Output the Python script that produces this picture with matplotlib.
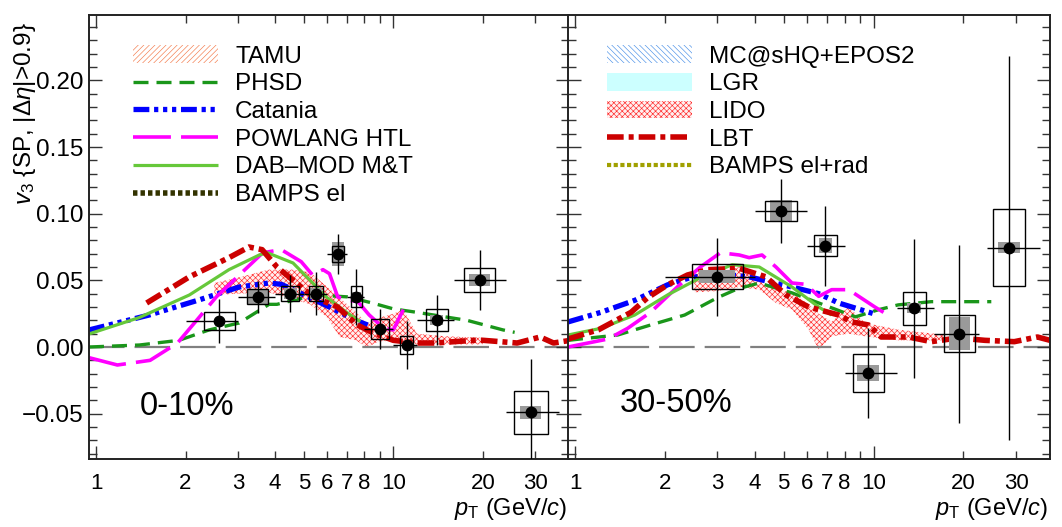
import numpy as np
import matplotlib
matplotlib.use("Agg")
import matplotlib.pyplot as plt
from matplotlib.patches import Rectangle, Patch
from matplotlib.lines import Line2D
from matplotlib.ticker import FixedLocator, NullFormatter, FixedFormatter

plt.rcParams['font.family'] = ['Liberation Sans', 'DejaVu Sans']
plt.rcParams['mathtext.fontset'] = 'custom'
plt.rcParams['mathtext.rm'] = 'Liberation Sans'
plt.rcParams['mathtext.it'] = 'Liberation Sans:italic'
plt.rcParams['mathtext.bf'] = 'Liberation Sans:bold'
plt.rcParams['hatch.linewidth'] = 0.45

# ---------------- measured D-meson v3, 0-10% ----------------
pt_c = [2.6, 3.5, 4.5, 5.5, 6.5, 7.5, 9.0, 11.1, 14.0, 19.5, 29.0]
v3_c = [0.0195, 0.0376, 0.040, 0.040, 0.070, 0.0376, 0.0135, 0.0015, 0.0203, 0.0504, -0.0489]
ptlo_c = [2, 3, 4, 5, 6, 7, 8, 10, 12, 16, 24]
pthi_c = [3, 4, 5, 6, 7, 8, 10, 12, 16, 24, 36]
stat_c = [0.0165, 0.012, 0.014, 0.016, 0.015, 0.021, 0.0147, 0.018, 0.019, 0.0226, 0.040]
syst_c = [0.0068, 0.0056, 0.0056, 0.0056, 0.006, 0.0079, 0.0075, 0.0064, 0.0083, 0.009, 0.016]
systw_c = [1.128, 1.086, 1.072, 1.056, 1.047, 1.043, 1.072, 1.05, 1.089, 1.126, 1.141]
nonflow_c = [0.0, 0.0055, 0.004, 0.004, 0.009, 0.004, 0.0, 0.0, 0.004, 0.0045, 0.005]
nonfloww_c = [1.1, 1.08, 1.05, 1.05, 1.047, 1.04, 1.05, 1.05, 1.05, 1.086, 1.086]

# ---------------- measured D-meson v3, 30-50% ----------------
pt_p = [3.0, 4.9, 6.9, 9.6, 13.7, 19.4, 28.4]
v3_p = [0.0526, 0.102, 0.076, -0.0195, 0.029, 0.0098, 0.0744]
ptlo_p = [2, 4, 6, 8, 12, 16, 24]
pthi_p = [4, 6, 8, 12, 16, 22.5, 36]
stat_p = [0.029, 0.024, 0.030, 0.034, 0.052, 0.067, 0.144]
syst_p = [0.0094, 0.0075, 0.0079, 0.0143, 0.0124, 0.0139, 0.029]
systw_p = [1.22, 1.13, 1.094, 1.126, 1.09, 1.13, 1.13]
nonflow_p = [0.0049, 0.0086, 0.0056, 0.006, 0.0038, 0.0124, 0.0041]
nonfloww_p = [1.149, 1.088, 1.055, 1.09, 1.055, 1.088, 1.088]

# ---------------- model curves, 0-10% ----------------
phsd_pt_c = [0.947, 1.4, 1.9, 2.4, 3.03, 3.82, 4.06, 5.0, 5.55, 7.0, 8.5, 10.0, 12.0, 17.7, 23.4, 25.6]
phsd_v_c = [0.0, 0.0015, 0.005, 0.0128, 0.018, 0.032, 0.032, 0.037, 0.039, 0.0376, 0.033, 0.0286, 0.026, 0.020, 0.0128, 0.011]
catania_pt_c = [0.947, 1.51, 2.22, 3.03, 3.82, 4.2, 5.25, 6.63, 7.45, 8.2]
catania_v_c = [0.0128, 0.024, 0.0353, 0.045, 0.048, 0.047, 0.037, 0.026, 0.020, 0.0165]
powlang_pt_c = [0.947, 1.18, 1.52, 1.88, 2.18, 2.54, 3.1, 3.64, 4.2, 4.9, 5.35, 5.8, 6.1, 6.5, 7.1, 7.6, 8.3, 9.3, 10.0, 10.8]
powlang_v_c = [-0.008, -0.0135, -0.010, 0.003, 0.020, 0.0376, 0.056, 0.0707, 0.073, 0.064, 0.054, 0.058, 0.055, 0.0376, 0.035, 0.034, 0.024, 0.014, 0.0128, 0.028]
dab_pt_c = [0.947, 1.395, 2.06, 2.8, 3.54, 3.77, 4.6, 5.25, 5.99, 7.0, 7.74]
dab_v_c = [0.0098, 0.022, 0.039, 0.058, 0.069, 0.0707, 0.063, 0.050, 0.037, 0.0256, 0.019]
lbt_pt_c = [1.48, 2.06, 2.8, 3.27, 3.62, 4.06, 4.6, 5.38, 6.49, 7.57, 8.56, 10.0, 12.0, 13.8, 18.6, 20.1, 26.1, 31.2, 34.6, 39.4]
lbt_v_c = [0.033, 0.0526, 0.067, 0.075, 0.073, 0.060, 0.050, 0.0376, 0.030, 0.0165, 0.0105, 0.005, 0.003, 0.003, 0.005, 0.005, 0.003, 0.0075, 0.003, 0.005]
lido_pt_c = [2.5, 3.0, 3.8, 4.6, 5.25, 6.0, 6.6, 7.5, 8.1, 9.0, 10.0, 10.8, 12.0, 15.0, 20.0]
lido_lo_c = [0.039, 0.040, 0.041, 0.036, 0.032, 0.022, 0.0075, 0.005, 0.0, 0.004, 0.005, 0.002, 0.002, 0.002, 0.002]
lido_hi_c = [0.048, 0.052, 0.058, 0.058, 0.056, 0.045, 0.037, 0.026, 0.018, 0.022, 0.025, 0.028, 0.010, 0.008, 0.007]

# ---------------- model curves, 30-50% ----------------
phsd_pt_p = [0.947, 1.39, 1.79, 2.33, 3.0, 3.5, 4.14, 5.33, 8.7, 10.4, 12.1, 15.6, 24.8]
phsd_v_p = [0.005, 0.009, 0.0165, 0.024, 0.037, 0.0436, 0.048, 0.0406, 0.0226, 0.028, 0.0316, 0.034, 0.034]
catania_pt_p = [0.947, 1.22, 1.585, 2.04, 2.43, 3.0, 3.83, 5.33, 6.55, 7.64, 10.0]
catania_v_p = [0.0188, 0.026, 0.035, 0.0466, 0.052, 0.055, 0.0526, 0.045, 0.040, 0.033, 0.025]
powlang_pt_p = [0.947, 1.29, 1.5, 1.79, 2.2, 2.63, 3.07, 3.55, 3.83, 4.23, 4.71, 5.33, 5.93, 6.55, 7.24, 8.25, 10.1, 10.8]
powlang_v_p = [0.0, 0.006, 0.014, 0.026, 0.045, 0.060, 0.0707, 0.069, 0.067, 0.069, 0.060, 0.048, 0.047, 0.038, 0.043, 0.043, 0.030, 0.026]
dab_pt_p = [0.947, 1.22, 1.585, 2.04, 2.63, 3.36, 4.14, 5.33, 6.55, 7.24]
dab_v_p = [0.009, 0.014, 0.024, 0.039, 0.052, 0.0617, 0.060, 0.045, 0.030, 0.024]
lbt_pt_p = [0.947, 1.2, 1.54, 1.75, 2.04, 2.38, 2.78, 3.55, 4.36, 5.09, 6.06, 7.64, 8.45, 9.63, 10.6, 13.1, 15.6, 19.2, 23.6, 29.6, 35.4, 39.0]
lbt_v_p = [0.006, 0.013, 0.026, 0.037, 0.0466, 0.054, 0.058, 0.059, 0.0526, 0.039, 0.030, 0.024, 0.0188, 0.0165, 0.0075, 0.0075, 0.004, 0.0068, 0.005, 0.004, 0.0075, 0.005]
lido_pt_p = [2.51, 3.0, 3.55, 4.14, 4.71, 5.33, 6.06, 6.55, 7.24, 8.25, 9.4, 12.1, 17.4]
lido_lo_p = [0.041, 0.042, 0.045, 0.043, 0.033, 0.028, 0.013, -0.002, 0.008, 0.010, 0.008, 0.005, 0.005]
lido_hi_p = [0.055, 0.057, 0.060, 0.050, 0.043, 0.041, 0.032, 0.025, 0.019, 0.030, 0.018, 0.013, 0.009]

xtick_vals = [1, 2, 3, 4, 5, 6, 7, 8, 10, 20, 30]
xtick_text = ["1", "2", "3", "4", "5", "6", "7", "8", "10", "20", "30"]
ytick_vals = [-0.05, 0.0, 0.05, 0.10, 0.15, 0.20]
ytick_text = ["\u22120.05", "0.00", "0.05", "0.10", "0.15", "0.20"]

# ---------------- styles ----------------
sty_phsd = dict(color='#1a961a', lw=2.4, dashes=(4.5, 2.4))
sty_catania = dict(color='#0000ff', lw=3.8, dashes=(3.0, 0.9, 0.8, 0.9, 0.8, 0.9, 0.8, 0.9))
sty_powlang = dict(color='#ff00ff', lw=2.6, dashes=(10.5, 2.8))
sty_dab = dict(color='#66c83a', lw=2.3)
sty_bamps = dict(color='#333300', lw=4.0, dashes=(0.8, 0.55))
sty_lbt = dict(color='#cc0000', lw=4.0, dashes=(3.0, 0.9, 0.9, 0.9))
sty_bampsrad = dict(color='#a0a000', lw=3.0, dashes=(1.0, 0.6))
sty_lido = dict(facecolor='#fff0f0', edgecolor='#ff2a2a', hatch='xxxxxx', lw=0)
sty_tamu = dict(facecolor='white', edgecolor='#f47a4a', hatch='//////', lw=0)
sty_mcshq = dict(facecolor='white', edgecolor='#4a90e8', hatch='\\\\\\\\\\\\', lw=0)
sty_lgr = dict(facecolor='#ccffff', edgecolor='none', lw=0)

XMIN, XMAX = 0.947, 39.0
YMIN, YMAX = -0.084, 0.249

W, H = 1062, 527
fig = plt.figure(figsize=(W / 100, H / 100), dpi=100)
axL = fig.add_axes([89 / W, (H - 459) / H, 480 / W, 444 / H])
axR = fig.add_axes([568 / W, (H - 459) / H, 482 / W, 444 / H])


def style_axes(ax, ylabels):
    ax.set_xscale('log')
    ax.set_xlim(XMIN, XMAX)
    ax.set_ylim(YMIN, YMAX)
    ax.xaxis.set_major_locator(FixedLocator([1, 10]))
    ax.xaxis.set_minor_locator(FixedLocator([2, 3, 4, 5, 6, 7, 8, 9, 20, 30]))
    ax.xaxis.set_major_formatter(NullFormatter())
    ax.xaxis.set_minor_formatter(NullFormatter())
    ax.yaxis.set_major_locator(FixedLocator(ytick_vals))
    ax.yaxis.set_minor_locator(FixedLocator(np.round(np.arange(-0.08, 0.245, 0.01), 3)))
    if ylabels:
        ax.yaxis.set_major_formatter(FixedFormatter(ytick_text))
    else:
        ax.yaxis.set_major_formatter(NullFormatter())
    ax.yaxis.set_minor_formatter(NullFormatter())
    ax.tick_params(which='both', direction='in', top=True, right=True, bottom=True, left=True,
                   color='#333333', width=1.0)
    ax.tick_params(which='major', length=9.5)
    ax.tick_params(which='minor', length=5.5)
    ax.tick_params(axis='y', which='major', labelsize=17.5, pad=4)
    for s in ax.spines.values():
        s.set_color('#222222')
        s.set_linewidth(1.4)
    # x tick labels drawn as text so that 9 stays unlabelled
    for v, t in zip(xtick_vals, xtick_text):
        ax.text(v, -0.055, t, transform=ax.get_xaxis_transform(), ha='center', va='center',
                fontsize=16)
    ax.axhline(0.0, color='#808080', lw=1.6, dashes=(16, 4.5), zorder=1.5)


def draw_band(ax, pt, lo, hi, sty):
    ax.fill_between(pt, lo, hi, zorder=1, **sty)


def draw_line(ax, pt, v, sty, z=2):
    ax.plot(pt, v, solid_capstyle='butt', dash_capstyle='butt', zorder=z, **sty)


def draw_data(ax, pt, v, lo, hi, stat, syst, systw, nf, nfw):
    for p, y, s, sw, n, nw in zip(pt, v, syst, systw, nf, nfw):
        if n > 0:
            ax.add_patch(Rectangle((p / nw, y - n), p * nw - p / nw, 2 * n,
                                   facecolor='#9a9a9a', edgecolor='none', zorder=4))
        ax.add_patch(Rectangle((p / sw, y - s), p * sw - p / sw, 2 * s,
                               facecolor='none', edgecolor='black', lw=1.0, zorder=5))
    pt = np.asarray(pt)
    xerr = [pt - np.asarray(lo), np.asarray(hi) - pt]
    ax.errorbar(pt, v, xerr=xerr, yerr=stat, fmt='o', color='black', ms=7.5,
                elinewidth=1.0, capsize=0, zorder=6)


style_axes(axL, True)
style_axes(axR, False)

# 0-10 %
draw_band(axL, lido_pt_c, lido_lo_c, lido_hi_c, sty_lido)
draw_line(axL, phsd_pt_c, phsd_v_c, sty_phsd)
draw_line(axL, catania_pt_c, catania_v_c, sty_catania)
draw_line(axL, powlang_pt_c, powlang_v_c, sty_powlang)
draw_line(axL, dab_pt_c, dab_v_c, sty_dab)
draw_line(axL, lbt_pt_c, lbt_v_c, sty_lbt, z=2.5)
draw_data(axL, pt_c, v3_c, ptlo_c, pthi_c, stat_c, syst_c, systw_c, nonflow_c, nonfloww_c)

# 30-50 %
draw_band(axR, lido_pt_p, lido_lo_p, lido_hi_p, sty_lido)
draw_line(axR, phsd_pt_p, phsd_v_p, sty_phsd)
draw_line(axR, catania_pt_p, catania_v_p, sty_catania)
draw_line(axR, powlang_pt_p, powlang_v_p, sty_powlang)
draw_line(axR, dab_pt_p, dab_v_p, sty_dab)
draw_line(axR, lbt_pt_p, lbt_v_p, sty_lbt, z=2.5)
draw_data(axR, pt_p, v3_p, ptlo_p, pthi_p, stat_p, syst_p, systw_p, nonflow_p, nonfloww_p)

# centrality labels
axL.text(0.106, 0.119, "0-10%", transform=axL.transAxes, fontsize=23.5, ha='left', va='center')
axR.text(0.108, 0.124, "30-50%", transform=axR.transAxes, fontsize=23.5, ha='left', va='center')

# legends
def lh(sty):
    return Line2D([], [], solid_capstyle='butt', dash_capstyle='butt', **sty)

handles_L = [Patch(**sty_tamu), lh(sty_phsd), lh(sty_catania), lh(sty_powlang), lh(sty_dab), lh(sty_bamps)]
labels_L = ["TAMU", "PHSD", "Catania", "POWLANG HTL", "DAB\u2013MOD M&T", "BAMPS el"]
handles_R = [Patch(**sty_mcshq), Patch(**sty_lgr), Patch(**sty_lido), lh(sty_lbt), lh(sty_bampsrad)]
labels_R = ["MC@sHQ+EPOS2", "LGR", "LIDO", "LBT", "BAMPS el+rad"]

leg_kw = dict(loc='upper left', frameon=False, fontsize=17.5, handlelength=3.5,
              handleheight=0.75, handletextpad=0.7, labelspacing=0.22, borderpad=0,
              borderaxespad=0)
axL.legend(handles_L, labels_L, bbox_to_anchor=(0.092, 0.932), **leg_kw)
axR.legend(handles_R, labels_R, bbox_to_anchor=(0.081, 0.932), **leg_kw)

# axis titles
fig.text(25 / W, (H - 22) / H, r"$v_3$ {SP, $|\Delta\eta|$>0.9}", rotation=90,
         ha='center', va='top', fontsize=17.5)
fig.text(567 / W, (H - 509) / H, r"$p_{\mathrm{T}}$ (GeV/$c$)", ha='right', va='center', fontsize=17)
fig.text(1048 / W, (H - 509) / H, r"$p_{\mathrm{T}}$ (GeV/$c$)", ha='right', va='center', fontsize=17)

fig.savefig("out.png", dpi=100)
